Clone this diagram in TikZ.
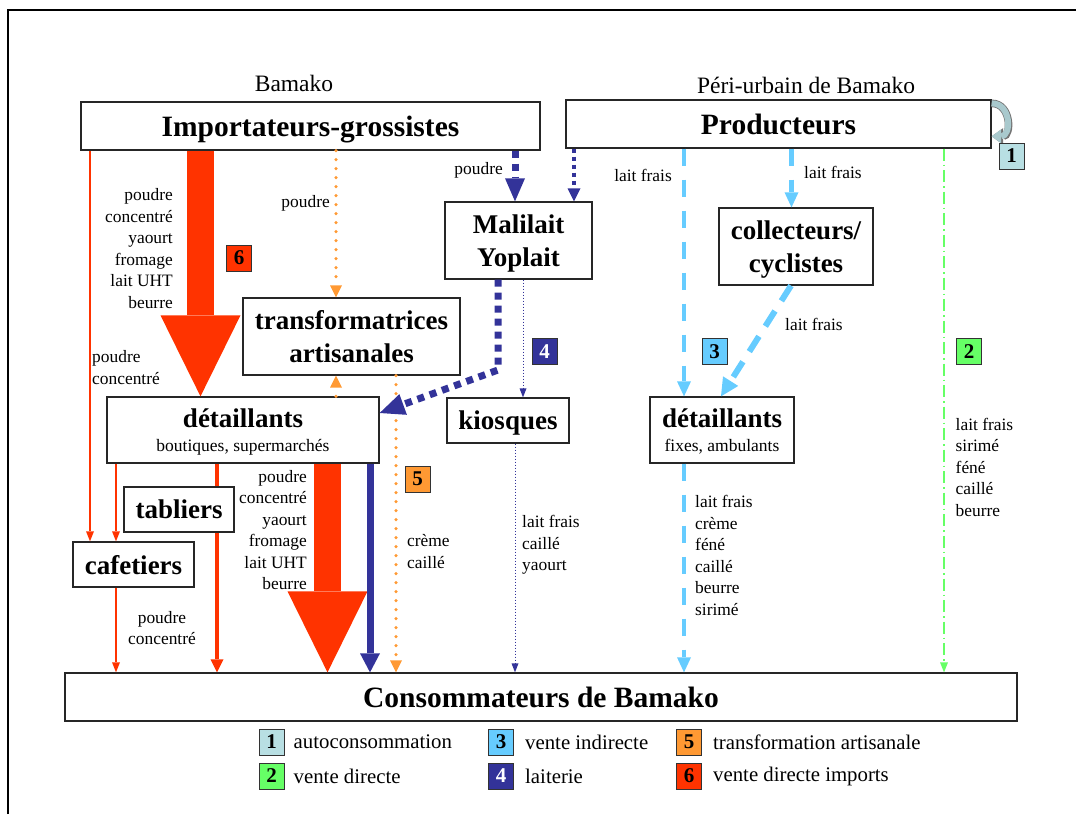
\documentclass[tikz,border=0pt]{standalone}
\usepackage{fontspec}
\setmainfont{Liberation Serif}
\usetikzlibrary{arrows.meta,positioning,backgrounds}
\definecolor{importred}{HTML}{FF3300}
\definecolor{laitblue}{HTML}{333399}
\definecolor{skyblue}{HTML}{66CCFF}
\definecolor{artorange}{HTML}{FF9933}
\definecolor{directgreen}{HTML}{66FF66}
\definecolor{autogray}{HTML}{B8DFE3}
\definecolor{loopgray}{HTML}{A9C9CD}

\begin{document}
\begin{tikzpicture}[x=1pt,y=-1pt,
		main node/.style={draw=black!85,line width=1.3pt,fill=white,inner sep=0pt,
			align=center,text depth=0pt,font=\bfseries\fontsize{27}{33}\selectfont},
		big node/.style={main node,font=\bfseries\fontsize{29.5}{32}\selectfont},
		head text/.style={inner sep=0pt,font=\fontsize{23.5}{26}\selectfont},
		flow text/.style={inner sep=0pt,font=\fontsize{17.4}{21.5}\selectfont},
		key text/.style={inner sep=0pt,font=\fontsize{20.8}{24}\selectfont},
		num box/.style={draw=black!80,line width=1pt,minimum width=25pt,
			minimum height=26pt,inner sep=0pt,font=\bfseries\fontsize{21}{21}\selectfont},
		import bulk/.style={importred,line width=27pt,
			-{Triangle[width=80pt,length=81pt,line width=0pt]}},
		import mid/.style={importred,line width=4.3pt,
			-{Triangle[width=13pt,length=13pt,line width=0pt]}},
		import thin/.style={importred,line width=1.2pt,
			-{Triangle[width=8pt,length=10pt,line width=0pt]}},
		dairy dash/.style={laitblue,line width=7pt,dash pattern=on 7pt off 6pt,
			-{Triangle[width=20pt,length=23pt,line width=0pt]}},
		dairy solid/.style={laitblue,line width=7pt,
			-{Triangle[width=20pt,length=19pt,line width=0pt]}},
		dairy dots/.style={laitblue,line width=4.3pt,dash pattern=on 4pt off 4pt,
			-{Triangle[width=13pt,length=13pt,line width=0pt]}},
		dairy fine/.style={laitblue,line width=1pt,dash pattern=on 1pt off 2pt,
			-{Triangle[width=7pt,length=9pt,line width=0pt]}},
		indirect/.style={skyblue,line width=4.5pt,dash pattern=on 17pt off 14pt,
			-{Triangle[width=14pt,length=15pt,line width=0pt]}},
		craft/.style={artorange,line width=3.5pt,line cap=round,dash pattern=on 0pt off 9pt,
			-{Triangle[width=12pt,length=12pt,line width=0pt]}},
		direct/.style={directgreen,line width=1.2pt,dash pattern=on 12pt off 4pt on 1.5pt off 4pt,
			-{Triangle[width=8pt,length=10pt,line width=0pt]}},
		self loop/.style={loopgray,line width=6pt,
			preaction={draw=black!55,line width=7.6pt,-{Triangle[width=16.5pt,length=11.5pt,line width=0pt]}},
			-{Triangle[width=14pt,length=9.5pt,line width=0pt]}}]
	
	\useasboundingbox (0,0) rectangle (1076,814);
	\draw[line width=2pt] (8,814) -- (8,10) -- (1076,10);
	
	\node[head text] (hBamako) at (294,83) {Bamako};
	\node[head text] (hPeri) at (806,85) {Péri-urbain de Bamako};
	
	\node[big node,minimum width=459pt,minimum height=48pt] (imp) at (310.5,126) {Importateurs-grossistes};
	\node[big node,minimum width=425pt,minimum height=48pt] (prod) at (778.5,124) {Producteurs};
	\node[main node,minimum width=147pt,minimum height=77pt] (mal) at (518.5,240.5) {Malilait\\Yoplait};
	\node[main node,minimum width=154pt,minimum height=77pt] (coll) at (796,246.5) {collecteurs/\\cyclistes};
	\node[main node,minimum width=217pt,minimum height=77pt] (trans) at (351.5,336.5) {transformatrices\\artisanales};
	\node[main node,text depth=-5pt,minimum width=272pt,minimum height=66pt] (detL) at (243,430)
		{détaillants\\[-9.5pt]{\normalfont\fontsize{17.5}{20}\selectfont boutiques, supermarchés}};
	\node[main node,minimum width=122pt,minimum height=45pt] (kio) at (508,420.5) {kiosques};
	\node[main node,text depth=-5pt,minimum width=144pt,minimum height=66pt] (detR) at (722,430)
		{détaillants\\[-9.5pt]{\normalfont\fontsize{17.5}{20}\selectfont fixes, ambulants}};
	\node[main node,minimum width=110pt,minimum height=45pt] (tab) at (179,509.5) {tabliers};
	\node[main node,minimum width=121pt,minimum height=45pt] (caf) at (133.5,564.5) {cafetiers};
	\node[big node,minimum width=952pt,minimum height=48pt] (cons) at (541,697) {Consommateurs de Bamako};
	
	% imports
	\draw[import bulk] (200.5,0 |- imp.south) -- (200.5,0 |- detL.north);
	\draw[import thin] (90,0 |- imp.south) -- (90,0 |- caf.north);
	\draw[import thin] (116,0 |- detL.south) -- (116,0 |- caf.north);
	\draw[import thin] (116,0 |- caf.south) -- (116,0 |- cons.north);
	\begin{scope}[on background layer]
		\draw[import mid] (217,0 |- detL.south) -- (217,0 |- cons.north);
	\end{scope}
	\draw[import bulk] (327.5,0 |- detL.south) -- (327.5,0 |- cons.north);
	
	% transformation
	\draw[craft] (336,0 |- imp.south) -- (336,0 |- trans.north);
	\draw[craft] (336,0 |- detL.north) -- (336,0 |- trans.south);
	\draw[craft] (396,0 |- trans.south) -- (396,0 |- cons.north);
	
	% laiterie
	\draw[dairy dash] (515,0 |- imp.south) -- (515,0 |- mal.north);
	\draw[dairy dots] (574,0 |- prod.south) -- (574,0 |- mal.north);
	\draw[dairy dash,-{Triangle[width=22pt,length=25pt,line width=0pt]}]
		(498,0 |- mal.south) -- (498,370) -- (detL.east |- 0,413);
	\draw[dairy fine] (523,0 |- mal.south) -- (523,0 |- kio.north);
	\draw[dairy fine] (515,0 |- kio.south) -- (515,0 |- cons.north);
	\draw[dairy solid] (370,0 |- detL.south) -- (370,0 |- cons.north);
	
	% vente indirecte, directe
	\draw[indirect] (684,0 |- prod.south) -- (684,0 |- detR.north);
	\draw[indirect] (791.5,0 |- prod.south) -- (791.5,0 |- coll.north);
	\draw[indirect,line width=6pt,dash pattern=on 18pt off 12pt,
		-{Triangle[width=18pt,length=18pt,line width=0pt]}]
		(791,0 |- coll.south) -- (721,0 |- detR.north);
	\draw[indirect] (684,0 |- detR.south) -- (684,0 |- cons.north);
	\draw[direct] (944,0 |- prod.south) -- (944,0 |- cons.north);
	\draw[self loop] ([yshift=-4pt]prod.north east) .. controls +(20,0) and +(20,0) .. ([yshift=-37pt]prod.north east);
	
	% labels
	\node[flow text,anchor=east] (pdA) at (330,203) {poudre};
	\node[flow text,anchor=east,align=right] (impList) at (173,248.5) {poudre\\concentré\\yaourt\\fromage\\lait UHT\\beurre};
	\node[flow text,anchor=west,align=left] (cafIn) at (92,367.5) {poudre\\concentré};
	\node[flow text,anchor=east] (pdB) at (503,170) {poudre};
	\node[flow text,anchor=east] (lfA) at (672,175) {lait frais};
	\node[flow text,anchor=west] (lfB) at (804,172) {lait frais};
	\node[flow text,anchor=west] (lfC) at (785,324) {lait frais};
	\node[flow text,anchor=east,align=right] (detList) at (307,530) {poudre\\concentré\\yaourt\\fromage\\lait UHT\\beurre};
	\node[flow text,align=center] (cafOut) at (162,628) {poudre\\concentré};
	\node[flow text,anchor=west,align=left] (craftList) at (407,551.5) {crème\\caillé};
	\node[flow text,anchor=west,align=left] (kioList) at (522,545) {lait frais\\caillé\\yaourt};
	\node[flow text,anchor=west,align=left] (detRList) at (695,555.5) {lait frais\\crème\\féné\\caillé\\beurre\\sirimé};
	\node[flow text,anchor=west,align=left] (directList) at (955.5,467) {lait frais\\sirimé\\féné\\caillé\\beurre};
	
	\node[num box,fill=importred] (n6) at (239,258) {6};
	\node[num box,fill=autogray] (n1) at (1011.5,156) {1};
	\node[num box,fill=laitblue,text=white] (n4) at (544.5,351.5) {4};
	\node[num box,fill=skyblue] (n3) at (714.5,351.5) {3};
	\node[num box,fill=directgreen] (n2) at (969,351.5) {2};
	\node[num box,fill=artorange] (n5) at (417.5,479) {5};
	
	% legend
	\node[num box,fill=autogray] (k1) at (271.5,742) {1};
	\node[key text,right=9pt of k1] (t1) {autoconsommation};
	\node[num box,fill=directgreen] (k2) at (271.5,776) {2};
	\node[key text,right=9pt of k2] (t2) {vente directe};
	\node[num box,fill=skyblue] (k3) at (501,742) {3};
	\node[key text,right=11pt of k3] (t3) {vente indirecte};
	\node[num box,fill=laitblue,text=white] (k4) at (501,776) {4};
	\node[key text,right=11pt of k4] (t4) {laiterie};
	\node[num box,fill=artorange] (k5) at (689,742) {5};
	\node[key text,right=11pt of k5] (t5) {transformation artisanale};
	\node[num box,fill=importred] (k6) at (689,776) {6};
	\node[key text,right=11pt of k6] (t6) {vente directe imports};
\end{tikzpicture}
\end{document}
